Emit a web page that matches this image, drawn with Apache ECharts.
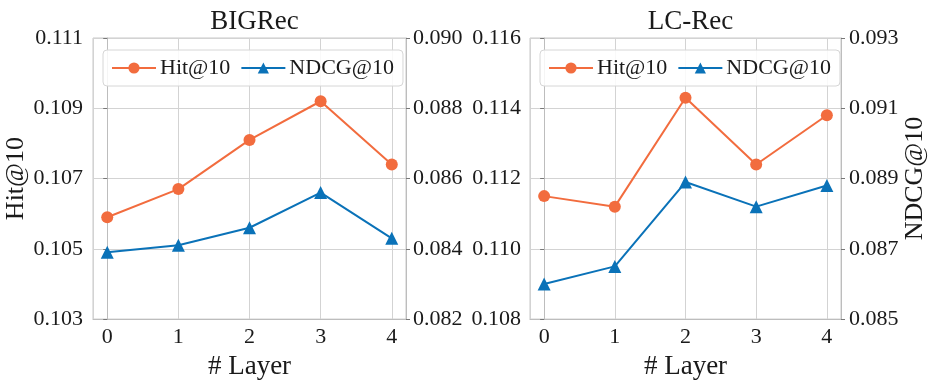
<!DOCTYPE html>
<html>
<head>
<meta charset="utf-8">
<script src="https://cdn.jsdelivr.net/npm/echarts@6/dist/echarts.min.js"></script>
<style>
html,body{margin:0;padding:0;background:#fff;}
#chart{width:936px;height:385px;}
</style>
</head>
<body>
<div id="chart"></div>
<script>
const layers = [0, 1, 2, 3, 4];
const panelTitles = ['BIGRec', 'LC-Rec'];
const bigrecHit = [0.1059, 0.1067, 0.1081, 0.1092, 0.1074];
const bigrecNdcg = [0.0839, 0.0841, 0.0846, 0.0856, 0.0843];
const lcrecHit = [0.1115, 0.1112, 0.1143, 0.1124, 0.1138];
const lcrecNdcg = [0.0860, 0.0865, 0.0889, 0.0882, 0.0888];
const bigrecHitTicks = [0.103, 0.105, 0.107, 0.109, 0.111];
const bigrecNdcgTicks = [0.082, 0.084, 0.086, 0.088, 0.090];
const lcrecHitTicks = [0.108, 0.110, 0.112, 0.114, 0.116];
const lcrecNdcgTicks = [0.085, 0.087, 0.089, 0.091, 0.093];

const FONT = '"Liberation Serif", "Times New Roman", serif';
const TXT = '#1a1a1a';
const ORANGE = '#F26C3E';
const BLUE = '#0A72B8';
const GRIDC = '#d3d3d3';

function pairs(vals) { return layers.map((x, i) => [x, vals[i]]); }

function yAxis(gridIndex, ticks, position, showSplit, name, nameGap, margin) {
  return {
    type: 'value', gridIndex, position,
    min: ticks[0], max: ticks[ticks.length - 1],
    interval: ticks[1] - ticks[0],
    name: name || '', nameLocation: 'middle', nameGap: nameGap || 0, nameRotate: 90,
    nameTextStyle: { fontFamily: FONT, fontSize: 26, color: TXT },
    axisLine: { show: true, lineStyle: { color: '#bdbdbd', width: 1 } },
    axisTick: { show: true, length: 4, inside: false, lineStyle: { color: '#777' } },
    axisLabel: { fontFamily: FONT, fontSize: 22, color: TXT, margin,
      formatter: v => v.toFixed(3) },
    splitLine: { show: showSplit, lineStyle: { color: GRIDC, width: 1 } }
  };
}

function xAxis(gridIndex) {
  return {
    type: 'value', gridIndex, min: -0.2, max: 4.2,
    name: '# Layer', nameLocation: 'middle', nameGap: 29,
    nameTextStyle: { fontFamily: FONT, fontSize: 27, color: TXT },
    axisLine: { show: true, lineStyle: { color: '#bdbdbd' } },
    axisTick: { show: false },
    axisLabel: { fontFamily: FONT, fontSize: 22, color: TXT, margin: 7,
      formatter: v => (Math.abs(v - Math.round(v)) < 1e-6 ? String(Math.round(v)) : '') },
    splitLine: { show: true, lineStyle: { color: GRIDC, width: 1 } }
  };
}

function lineSeries(name, xi, yi, vals, color, symbol, size) {
  return {
    name, type: 'line', xAxisIndex: xi, yAxisIndex: yi, data: pairs(vals),
    symbol, symbolSize: size, showSymbol: true,
    lineStyle: { color, width: 2 }, itemStyle: { color },
    emphasis: { disabled: true }, animation: false, z: 3
  };
}

function legend(left) {
  return {
    left, top: 50, orient: 'horizontal',
    data: ['Hit@10', 'NDCG@10'],
    itemWidth: 44, itemHeight: 14, itemGap: 10,
    padding: [7, 9, 7, 8],
    borderColor: '#d6d6d6', borderWidth: 1, borderRadius: 4,
    backgroundColor: 'rgba(255,255,255,0.85)',
    textStyle: { fontFamily: FONT, fontSize: 22, color: TXT, padding: [0, 0, 0, -1] },
    selectedMode: false
  };
}

const option = {
  animation: false,
  backgroundColor: '#ffffff',
  title: [
    { text: panelTitles[0], left: 249.5, top: 3, textAlign: 'center',
      textStyle: { fontFamily: FONT, fontSize: 27, fontWeight: 'normal', color: TXT } },
    { text: panelTitles[1], left: 685.5, top: 3, textAlign: 'center',
      textStyle: { fontFamily: FONT, fontSize: 27, fontWeight: 'normal', color: TXT } }
  ],
  grid: [
    { left: 93, right: 530, top: 38, bottom: 64, show: true, borderColor: '#c8c8c8', borderWidth: 1 },
    { left: 530, right: 95, top: 38, bottom: 64, show: true, borderColor: '#c8c8c8', borderWidth: 1 }
  ],
  legend: [legend(103), legend(540)],
  xAxis: [xAxis(0), xAxis(1)],
  yAxis: [
    yAxis(0, bigrecHitTicks, 'left', true, 'Hit@10', 59, 10),
    yAxis(0, bigrecNdcgTicks, 'right', false, '', 0, 7),
    yAxis(1, lcrecHitTicks, 'left', true, '', 0, 9),
    yAxis(1, lcrecNdcgTicks, 'right', false, 'NDCG@10', 58, 8)
  ],
  series: [
    lineSeries('Hit@10', 0, 0, bigrecHit, ORANGE, 'circle', 12),
    lineSeries('NDCG@10', 0, 1, bigrecNdcg, BLUE, 'triangle', 13),
    lineSeries('Hit@10', 1, 2, lcrecHit, ORANGE, 'circle', 12),
    lineSeries('NDCG@10', 1, 3, lcrecNdcg, BLUE, 'triangle', 13)
  ]
};

const chart = echarts.init(document.getElementById('chart'), null, { renderer: 'canvas' });
chart.setOption(option);
</script>
</body>
</html>
